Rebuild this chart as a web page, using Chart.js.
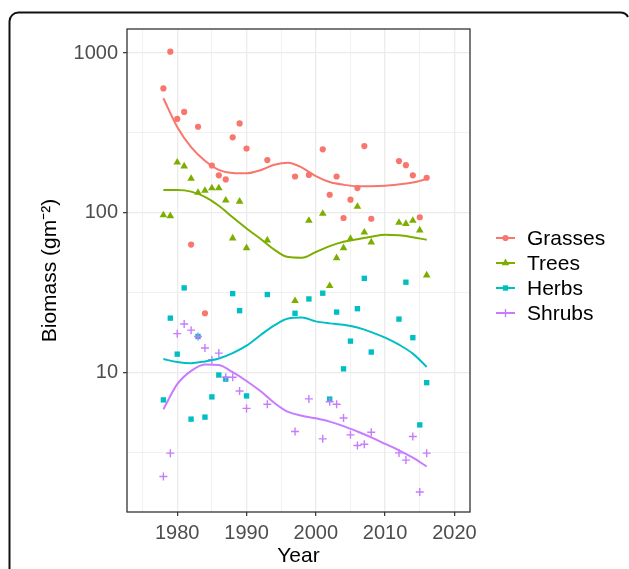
<!DOCTYPE html>
<html>
<head>
<meta charset="utf-8">
<script src="https://cdn.jsdelivr.net/npm/chart.js@4.4.0/dist/chart.umd.min.js"></script>
<style>
  html, body { margin: 0; padding: 0; background: #fff; }
  canvas { display: block; }
</style>
</head>
<body>
<canvas id="biomassChart" width="629" height="569"></canvas>
<script>
// observed biomass (same survey years for every group)
const years = [1978, 1979, 1980, 1981, 1982, 1983, 1984, 1985, 1986, 1987, 1988, 1989, 1990, 1993,
  1997, 1999, 2001, 2002, 2003, 2004, 2005, 2006, 2007, 2008, 2012, 2013, 2014, 2015, 2016];
const grasses = [601, 1019, 387, 428, 63.4, 346, 23.6, 198, 172, 162, 297, 363, 253, 214,
  169, 173, 250, 130, 169, 93, 121, 143, 262, 92, 211, 199, 172, 94, 166];
const trees = [97, 95.7, 207, 196, 164, 134, 138, 143, 143, 120, 69.5, 118, 60.4, 67.5,
  28.2, 89.5, 99, 35, 52.3, 60.4, 69, 109.7, 75.7, 65.6, 87, 85.7, 89.5, 78, 40.8];
const herbs = [6.78, 22, 13.1, 34, 5.14, 16.9, 5.29, 7.08, 9.7, 9.14, 31.3, 24.5, 7.18, 30.9,
  23.6, 29, 31.5, 6.86, 24, 10.6, 15.8, 25.2, 39, 13.5, 21.7, 36.9, 16.6, 4.73, 8.69];
const shrubs = [2.25, 3.15, 17.6, 20.2, 18.5, 16.9, 14.3, 12.1, 13.3, 9.4, 9.4, 7.7, 6.0, 6.37,
  4.3, 6.88, 3.87, 6.6, 6.37, 5.23, 4.1, 3.52, 3.58, 4.26, 3.16, 2.85, 4.0, 1.8, 3.15];

// smoothed trend
const fitYears = [1978, 1980, 1982, 1984, 1986, 1988, 1990, 1992, 1994, 1996,
  1998, 2000, 2002, 2004, 2006, 2008, 2010, 2012, 2014, 2016];
const grassesFit = [521, 345, 258, 212, 186, 178, 177, 185, 200, 206,
  192, 170, 156, 150, 147, 147, 148, 151, 155, 163];
const treesFit = [139, 139, 136, 126, 111, 94, 80, 69, 59, 53,
  52.5, 57, 62, 66, 68.5, 71, 73, 72.5, 70.5, 68];
const herbsFit = [12.2, 11.7, 11.5, 11.8, 12.3, 13.3, 14.8, 17.2, 19.8, 21.9,
  22.2, 21.0, 20.4, 20.0, 19.2, 18.0, 16.6, 15.0, 13.2, 10.9];
const shrubsFit = [5.93, 8.5, 10.3, 11.3, 11.2, 10.1, 8.9, 7.7, 6.5, 5.7,
  5.4, 5.2, 4.96, 4.65, 4.3, 3.95, 3.6, 3.28, 2.95, 2.6];

const xTicks = [1975, 1980, 1985, 1990, 1995, 2000, 2005, 2010, 2015, 2020];
const yTicks = [3.162, 10, 31.62, 100, 316.2, 1000];

const groups = [
  { label: "Grasses", points: grasses, fit: grassesFit, color: "#F8766D", style: "circle", radius: 3.1 },
  { label: "Trees", points: trees, fit: treesFit, color: "#7CAE00", style: "triangle", radius: 4.4 },
  { label: "Herbs", points: herbs, fit: herbsFit, color: "#00BFC4", style: "rect", radius: 3.8 },
  { label: "Shrubs", points: shrubs, fit: shrubsFit, color: "#C77CFF", style: "cross", radius: 4 },
];

const FONT = "'Liberation Sans', Arial, sans-serif";
const isMajorX = v => v % 10 === 0;
const isMajorY = v => Math.abs(Math.log10(v) - Math.round(Math.log10(v))) < 1e-6;

const datasets = [];
groups.forEach((g, i) => {
  datasets.push({
    type: "line",
    label: g.label + " trend",
    data: fitYears.map((yr, j) => ({ x: yr, y: g.fit[j] })),
    borderColor: g.color,
    borderWidth: 2,
    pointRadius: 0,
    fill: false,
    cubicInterpolationMode: "monotone",
    order: 3 - i,
  });
  datasets.push({
    type: "scatter",
    label: g.label,
    data: years.map((yr, j) => ({ x: yr, y: g.points[j] })),
    pointStyle: g.style,
    pointRadius: g.radius,
    backgroundColor: g.color,
    borderColor: g.color,
    borderWidth: g.style === "cross" ? 1.4 : 0,
    order: 7 - i,
  });
});

// ggplot-like frame, panel border and legend
const decorations = {
  id: "decorations",
  beforeDraw(chart) {
    const ctx = chart.ctx;
    ctx.save();
    ctx.strokeStyle = "#111";
    ctx.lineWidth = 2;
    ctx.beginPath();
    ctx.moveTo(9.5, 569);
    ctx.lineTo(9.5, 22);
    ctx.arcTo(9.5, 12.5, 19.5, 12.5, 9);
    ctx.lineTo(620, 12.5);
    ctx.quadraticCurveTo(626, 12.5, 628, 17);
    ctx.stroke();
    ctx.restore();
  },
  afterDraw(chart) {
    const ctx = chart.ctx;
    const a = chart.chartArea;
    ctx.save();
    ctx.strokeStyle = "#333333";
    ctx.lineWidth = 1.3;
    ctx.strokeRect(a.left, a.top, a.right - a.left, a.bottom - a.top);

    groups.forEach((g, i) => {
      const y = 238 + i * 25;
      ctx.strokeStyle = g.color;
      ctx.fillStyle = g.color;
      ctx.lineWidth = 2;
      ctx.beginPath();
      ctx.moveTo(496, y);
      ctx.lineTo(515, y);
      ctx.stroke();
      ctx.lineWidth = 1.4;
      Chart.helpers.drawPoint(ctx, {
        pointStyle: g.style, rotation: 0, radius: g.radius,
        borderWidth: g.style === "cross" ? 1.4 : 0,
      }, 505.5, y);
      ctx.fillStyle = "#000";
      ctx.font = "21px " + FONT;
      ctx.textAlign = "left";
      ctx.textBaseline = "middle";
      ctx.fillText(g.label, 527, y + 1);
    });
    ctx.restore();
  },
};

const biomassChart = new Chart(document.getElementById("biomassChart"), {
  type: "scatter",
  data: { datasets },
  options: {
    responsive: false,
    animation: false,
    events: [],
    layout: { padding: { top: 29, right: 159, bottom: 0, left: 0 } },
    scales: {
      x: {
        type: "linear",
        min: 1972.75,
        max: 2022.25,
        afterBuildTicks: s => { s.ticks = xTicks.map(v => ({ value: v })); },
        afterFit: s => { s.height = 57; },
        border: { display: false },
        grid: {
          color: "#EBEBEB",
          lineWidth: c => (isMajorX(c.tick.value) ? 1.3 : 0.7),
          tickLength: 4,
          tickWidth: 1.2,
          tickColor: c => (isMajorX(c.tick.value) ? "#333333" : "rgba(0,0,0,0)"),
        },
        ticks: {
          autoSkip: false,
          maxRotation: 0,
          padding: 5,
          color: "#4D4D4D",
          font: { family: FONT, size: 20 },
          callback: v => (isMajorX(v) ? String(v) : ""),
        },
        title: {
          display: true,
          text: "Year",
          color: "#000",
          font: { family: FONT, size: 21 },
          padding: { top: 0, bottom: 0 },
        },
      },
      y: {
        type: "logarithmic",
        min: 1.35,
        max: 1413,
        afterBuildTicks: s => { s.ticks = yTicks.map(v => ({ value: v })); },
        afterFit: s => { s.width = 127; },
        border: { display: false },
        grid: {
          color: "#EBEBEB",
          lineWidth: c => (isMajorY(c.tick.value) ? 1.3 : 0.7),
          tickLength: 4,
          tickWidth: 1.2,
          tickColor: c => (isMajorY(c.tick.value) ? "#333333" : "rgba(0,0,0,0)"),
        },
        ticks: {
          autoSkip: false,
          padding: 5,
          color: "#4D4D4D",
          font: { family: FONT, size: 20 },
          callback: v => (isMajorY(v) ? String(Math.round(v)) : ""),
        },
        title: {
          display: true,
          text: "Biomass (gm\u207B\u00B2)",
          color: "#000",
          font: { family: FONT, size: 21 },
          padding: { top: 38, bottom: 0 },
        },
      },
    },
    plugins: {
      legend: { display: false },
      tooltip: { enabled: false },
    },
  },
  plugins: [decorations],
});
</script>
</body>
</html>
